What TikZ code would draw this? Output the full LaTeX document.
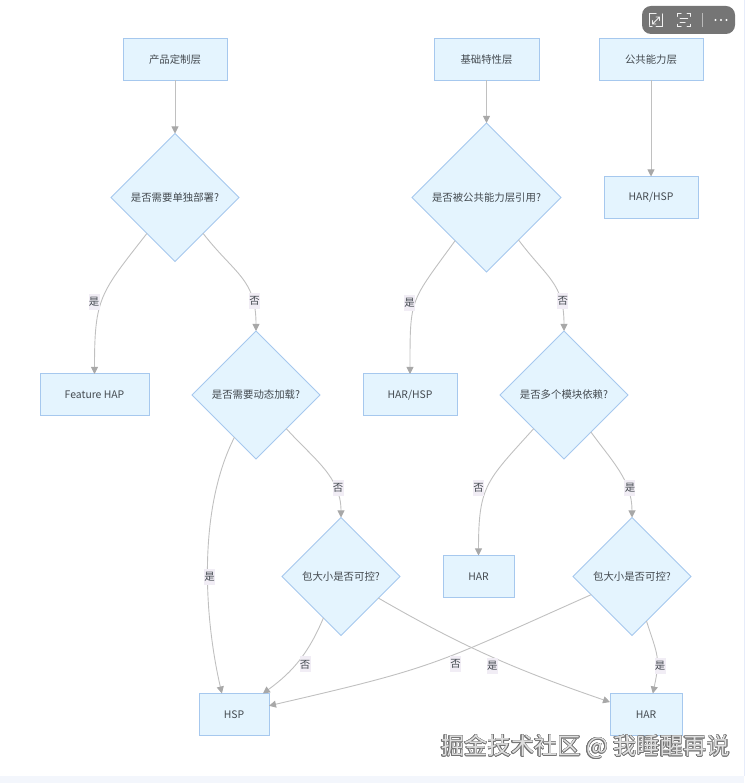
\documentclass[tikz,border=0pt]{standalone}
\usepackage{fontspec}
\usepackage[copies]{contour}
\usepackage{xcolor}
\usepackage{tikz}
\usetikzlibrary{shapes.geometric,arrows.meta}
\setmainfont{Noto Sans CJK SC}
\definecolor{boxfill}{HTML}{E4F4FE}
\definecolor{boxline}{HTML}{A6C8EE}
\definecolor{edgeline}{HTML}{C0C0C0}
\definecolor{edgetip}{HTML}{A8A8A8}
\definecolor{labelfill}{HTML}{F1EDF5}
\definecolor{labeltext}{HTML}{444A50}
\definecolor{toolgray}{HTML}{757575}
\definecolor{framecol}{HTML}{E6ECFA}
\definecolor{stripcol}{HTML}{F3F6FC}
\contourlength{0.5pt}
\begin{document}
\begin{tikzpicture}
		[x=1pt,y=1pt,
		procbox/.style={rectangle,draw=boxline,fill=boxfill,line width=1pt,
inner sep=0pt,outer sep=0pt,minimum height=42pt,text=labeltext,font=\fontsize{10.4}{12}\selectfont},
		decibox/.style={diamond,draw=boxline,fill=boxfill,line width=1pt,
inner sep=0pt,outer sep=0pt,aspect=1,text=labeltext,font=\fontsize{10.4}{12}\selectfont},
		edgelabel/.style={fill=labelfill,inner sep=0pt,minimum width=11pt,minimum height=16pt,
text=labeltext,font=\fontsize{10.4}{12}\selectfont},
		flowedge/.style={-{Triangle[length=7pt,width=7pt,color=edgetip]},draw=edgeline,line width=.9pt},
		iconline/.style={draw=white!90!toolgray,line width=1pt,line cap=round}]
		\useasboundingbox (0,.5) rectangle (753,783.5);
		\fill[stripcol] (0,.5) rectangle (744,7);
		\draw[framecol,line width=1pt] (744,7) -- (744,783.5);
		\node at (234,69) (hsp) [procbox,minimum width=70pt] {HSP};
		\node at (646,69) (har2) [procbox,minimum width=72pt] {HAR};
		\node at (341,207) (pkg1) [decibox,minimum size=118pt] {包大小是否可控?}
			edge [flowedge,out=247,in=36] node[edgelabel,pos=.5,xshift=6pt,yshift=-4pt] {否} (hsp.36)
			edge [flowedge,out=-30,in=161] node[edgelabel,pos=.5,xshift=1pt,yshift=-9pt] {是} (har2.161);
		\node at (256,388.5) (dyn) [decibox,minimum size=128pt] {是否需要动态加载?}
			edge [flowedge,out=243,in=103,looseness=.8] node[edgelabel,pos=.55,xshift=2pt] {是} (hsp.120)
			edge [flowedge,out=-48,in=90] node[edgelabel,pos=.72,xshift=3pt] {否} (pkg1.north);
		\node at (94.5,388.5) (feature) [procbox,minimum width=109pt] {Feature HAP};
		\node at (175,586) (deploy) [decibox,minimum size=128pt] {是否需要单独部署?}
			edge [flowedge,out=232,in=90,looseness=1.3] node[edgelabel,pos=.5,xshift=-9pt,yshift=-4pt] {是} (feature.north)
			edge [flowedge,out=-52,in=90,looseness=1.2] node[edgelabel,pos=.76,xshift=2pt] {否} (dyn.north);
		\node at (175,724) (product) [procbox,minimum width=104pt] {产品定制层}
			edge [flowedge] (deploy);
		\node at (478.5,207) (har1) [procbox,minimum width=71pt] {HAR};
		\node at (632,207) (pkg2) [decibox,minimum size=118pt] {包大小是否可控?}
			edge [flowedge,out=204,in=13,looseness=1.3] node[edgelabel,pos=.41,yshift=-10pt] {否} (hsp.14)
			edge [flowedge,out=-72,in=78,looseness=1.3] node[edgelabel,pos=.6,xshift=3pt,yshift=-3pt] {是} (har2.72);
		\node at (564,388.5) (multi) [decibox,minimum size=128pt] {是否多个模块依赖?}
			edge [flowedge,out=228,in=90,looseness=1.3] node[edgelabel,pos=.5,xshift=-10pt,yshift=-3pt] {否} (har1.north)
			edge [flowedge,out=-54,in=90] node[edgelabel,pos=.69,xshift=3pt] {是} (pkg2.north);
		\node at (410,388.5) (harhsp2) [procbox,minimum width=94pt] {HAR/HSP};
		\node at (486.5,586) (refer) [decibox,minimum size=149pt] {是否被公共能力层引用?}
			edge [flowedge,out=234,in=90,looseness=1.4] node[edgelabel,pos=.5,xshift=-6pt,yshift=-1pt] {是} (harhsp2.north)
			edge [flowedge,out=-53,in=90,looseness=1.2] node[edgelabel,pos=.74,xshift=2pt] {否} (multi.north);
		\node at (486.5,724) (base) [procbox,minimum width=105pt] {基础特性层}
			edge [flowedge] (refer);
		\node at (651,586) (harhsp1) [procbox,minimum width=94pt] {HAR/HSP};
		\node at (651,724) (common) [procbox,minimum width=104pt] {公共能力层}
			edge [flowedge] (harhsp1);
		\fill[toolgray,rounded corners=9pt] (642,749.5) rectangle (735,777.5);
		\draw[iconline] (649.5,758) -- (649.5,769.5) -- (656,769.5) (662.5,769.5) -- (662.5,756.5) -- (656,756.5) (649.5,756.5) -- (652,756.5);
		\draw[iconline,line width=.9pt] (652.5,759.5) -- (659.5,766.5) (656,766.5) -- (659.5,766.5) -- (659.5,763) (652.5,763) -- (652.5,759.5) -- (656,759.5);
		\draw[iconline] (677.5,767) -- (677.5,769.5) -- (681,769.5) (687,769.5) -- (690,769.5) -- (690,767) (690,759) -- (690,756.5) -- (687,756.5) (681,756.5) -- (677.5,756.5) -- (677.5,759);
		\draw[iconline] (680,765) -- (687.5,765) (680,761) -- (685,761);
		\draw[white!50!toolgray,line width=.7pt] (702,756) -- (702,770);
		\foreach \dotx in {715.5,721,726.5}
			\fill[white] (\dotx,763.5) circle [radius=1.1pt];
		\node at (585.5,36.5) (mark) [text=white!88!black,font=\fontsize{23.3}{27}\selectfont] {\contour{black!55}{掘金技术社区 @ 我睡醒再说}};
	\end{tikzpicture}
\end{document}
